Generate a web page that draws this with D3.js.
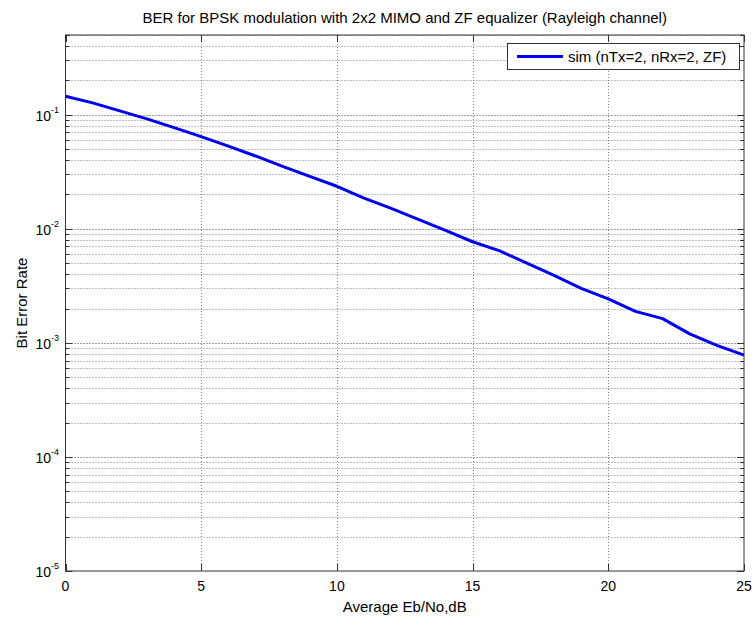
<!DOCTYPE html>
<html>
<head>
<meta charset="utf-8">
<script src="https://cdn.jsdelivr.net/npm/d3@7"></script>
<style>
  html, body { margin: 0; padding: 0; background: #fff; }
  text { font-family: "Liberation Sans", Arial, Helvetica, sans-serif; fill: #000; }
</style>
</head>
<body>
<svg id="chart" width="755" height="620"></svg>
<script>
// ---- data ----
const snrDb = [0,1,2,3,4,5,6,7,8,9,10,11,12,13,14,15,16,17,18,19,20,21,22,23,24,25];
const berSim = [0.145,0.127,0.108,0.092,0.077,0.0642,0.053,0.0435,0.0352,0.0288,0.0236,
                0.0186,0.0151,0.0121,0.0097,0.0077,0.0064,0.0050,0.0039,0.0030,0.00243,
                0.00189,0.00163,0.00120,0.00095,0.00078];
const xTicks = [0,5,10,15,20,25];
const yDecades = [-5,-4,-3,-2,-1];
const titleText = "BER for BPSK modulation with 2x2 MIMO and ZF equalizer (Rayleigh channel)";
const xLabel = "Average Eb/No,dB";
const yLabel = "Bit Error Rate";
const legendLabel = "sim (nTx=2, nRx=2, ZF)";

// ---- layout ----
const L = 65.5, R = 744, T = 35, B = 571;
const svg = d3.select("#chart");
const x = d3.scaleLinear().domain([0,25]).range([L,R]);
const y = d3.scaleLog().domain([1e-5,0.5]).range([B,T]);

const minorVals = [];
yDecades.forEach(e => { for (let k = 2; k <= 9; k++) { const v = k*Math.pow(10,e); if (v <= 0.5) minorVals.push(v); } });
const majorVals = yDecades.map(e => Math.pow(10,e));

// grid
const grid = svg.append("g");
grid.selectAll(".gm").data(minorVals).enter().append("line")
  .attr("x1", L).attr("x2", R).attr("y1", d => Math.round(y(d))+0.5).attr("y2", d => Math.round(y(d))+0.5)
  .attr("stroke", "#808080").attr("stroke-width", 1).attr("stroke-dasharray", "1,2");
grid.selectAll(".gM").data(majorVals.slice(1)).enter().append("line")
  .attr("x1", L).attr("x2", R).attr("y1", d => Math.round(y(d))+0.5).attr("y2", d => Math.round(y(d))+0.5)
  .attr("stroke", "#444").attr("stroke-width", 1).attr("stroke-dasharray", "1,2");
grid.selectAll(".gx").data(xTicks.slice(1,-1)).enter().append("line")
  .attr("x1", d => Math.round(x(d))+0.5).attr("x2", d => Math.round(x(d))+0.5).attr("y1", T).attr("y2", B)
  .attr("stroke", "#808080").attr("stroke-width", 1).attr("stroke-dasharray", "1,2");

// ticks (inside)
const tk = svg.append("g").attr("stroke", "#333").attr("stroke-width", 1);
majorVals.forEach(v => {
  const yy = Math.round(y(v))+0.5;
  tk.append("line").attr("x1", L).attr("x2", L+7).attr("y1", yy).attr("y2", yy);
  tk.append("line").attr("x1", R-7).attr("x2", R).attr("y1", yy).attr("y2", yy);
});
minorVals.forEach(v => {
  const yy = Math.round(y(v))+0.5;
  tk.append("line").attr("x1", L).attr("x2", L+4).attr("y1", yy).attr("y2", yy);
  tk.append("line").attr("x1", R-4).attr("x2", R).attr("y1", yy).attr("y2", yy);
});
xTicks.forEach(v => {
  const xx = Math.round(x(v))+0.5;
  tk.append("line").attr("x1", xx).attr("x2", xx).attr("y1", B).attr("y2", B-7);
  tk.append("line").attr("x1", xx).attr("x2", xx).attr("y1", T).attr("y2", T+7);
});

// axes box
svg.append("rect").attr("x", L).attr("y", T).attr("width", R-L).attr("height", B-T)
  .attr("fill", "none").attr("stroke", "#333").attr("stroke-width", 1);

// tick labels
const yl = svg.append("g");
yDecades.forEach(e => {
  const t = yl.append("text").attr("x", 59).attr("y", y(Math.pow(10,e)) + 6)
    .attr("text-anchor", "end").attr("font-size", 14);
  t.append("tspan").text("10");
  t.append("tspan").attr("dy", -8).attr("font-size", 9).text(String(e));
});
svg.append("g").selectAll("text").data(xTicks).enter().append("text")
  .attr("x", d => x(d)).attr("y", 591).attr("text-anchor", "middle").attr("font-size", 14)
  .text(d => d);

// data line
const line = d3.line().x((d,i) => x(snrDb[i])).y(d => y(d));
svg.append("path").datum(berSim).attr("d", line)
  .attr("fill", "none").attr("stroke", "#0000ee").attr("stroke-width", 3).attr("stroke-linejoin", "round");

// title & labels
svg.append("text").attr("x", (L+R)/2).attr("y", 23).attr("text-anchor", "middle").attr("font-size", 15).text(titleText);
svg.append("text").attr("x", (L+R)/2).attr("y", 612).attr("text-anchor", "middle").attr("font-size", 15).text(xLabel);
svg.append("text").attr("transform", `translate(27,${(T+B)/2}) rotate(-90)`).attr("text-anchor", "middle").attr("font-size", 15).text(yLabel);

// legend
const lg = svg.append("g");
lg.append("rect").attr("x", 507.5).attr("y", 43.5).attr("width", 232).attr("height", 26)
  .attr("fill", "#fff").attr("stroke", "#333").attr("stroke-width", 1);
lg.append("line").attr("x1", 517).attr("x2", 563).attr("y1", 56.5).attr("y2", 56.5)
  .attr("stroke", "#0000ee").attr("stroke-width", 3);
lg.append("text").attr("x", 568).attr("y", 62).attr("font-size", 15).text(legendLabel);
</script>
</body>
</html>
